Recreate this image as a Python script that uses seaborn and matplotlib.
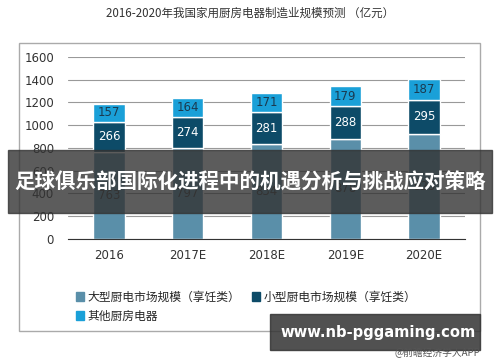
import matplotlib
matplotlib.use("Agg")
import matplotlib.pyplot as plt
import matplotlib.patches as mpatches
import seaborn as sns
import pandas as pd
import numpy as np

categories = ["2016", "2017E", "2018E", "2019E", "2020E"]
large = [763, 797, 834, 878, 925]
small = [266, 274, 281, 288, 295]
other = [157, 164, 171, 179, 187]
series_names = ["大型厨电市场规模（享饪类）", "小型厨电市场规模（享饪类）", "其他厨房电器"]
colors = ["#5a8fa9", "#0d4b68", "#1aa0d8"]
yticks = [0, 200, 400, 600, 800, 1000, 1200, 1400, 1600]
title = "2016-2020年我国家用厨房电器制造业规模预测 （亿元）"
banner = "足球俱乐部国际化进程中的机遇分析与挑战应对策略"
site = "www.nb-pggaming.com"
source = "@前瞻经济学人APP"

sns.set_style("white")
plt.rcParams['font.family'] = ['Noto Sans CJK SC', 'DejaVu Sans']

fig = plt.figure(figsize=(5.0, 3.62), dpi=100)
ax = fig.add_axes([0.136, 0.34, 0.794, 0.503])

df = pd.DataFrame({"cat": categories, "large": large, "small": small, "other": other})
b1 = np.array(large)
b2 = b1 + np.array(small)
sns.barplot(data=df, x="cat", y="large", color=colors[0], width=0.4, ax=ax, saturation=1)
sns.barplot(data=df, x="cat", y="small", bottom=b1, color=colors[1], width=0.4, ax=ax, saturation=1)
sns.barplot(data=df, x="cat", y="other", bottom=b2, color=colors[2], width=0.4, ax=ax, saturation=1)

for i in range(len(categories)):
    ax.text(i, large[i] / 2, str(large[i]), ha="center", va="center", fontsize=8.5, color="#333333", family="DejaVu Sans")
    ax.text(i, b1[i] + small[i] / 2, str(small[i]), ha="center", va="center", fontsize=8.5, color="white", family="DejaVu Sans")
    ax.text(i, b2[i] + other[i] / 2, str(other[i]), ha="center", va="center", fontsize=8.5, color="#1a3a50", family="DejaVu Sans")

ax.set_ylim(0, 1600)
ax.set_xlim(-0.52, 4.52)
ax.set_yticks(yticks)
ax.set_yticklabels([str(v) for v in yticks], fontsize=8.5, color="#333333", family="DejaVu Sans")
ax.set_xticklabels(categories, fontsize=8.5, color="#333333", family="DejaVu Sans")
ax.set_xlabel("")
ax.set_ylabel("")
ax.yaxis.grid(True, color="#999999", linewidth=0.8)
ax.set_axisbelow(True)
for s in ["top", "right", "left"]:
    ax.spines[s].set_visible(False)
ax.spines["bottom"].set_color("#333333")
ax.tick_params(axis="y", length=0, pad=10)
ax.tick_params(axis="x", length=0, pad=7)

# frame
fig.patches.append(mpatches.Rectangle((19 / 500, 1 - 331 / 362), 461 / 500, 288 / 362,
                                      transform=fig.transFigure, fill=False, edgecolor="#aaaaaa", linewidth=1.0))

fig.text(0.5, 1 - 13 / 362, title, ha="center", va="center", fontsize=8.3, color="#333333")

# legend
handles = [mpatches.Patch(color=c) for c in colors]
fig.legend(handles[:2], series_names[:2], loc="center left", bbox_to_anchor=(0.13, 1 - 297 / 362), ncol=2,
           frameon=False, fontsize=8.5, handlelength=0.7, handleheight=0.7, handletextpad=0.3, columnspacing=1.0)
fig.legend(handles[2:], series_names[2:], loc="center left", bbox_to_anchor=(0.13, 1 - 316 / 362), ncol=1,
           frameon=False, fontsize=8.5, handlelength=0.7, handleheight=0.7, handletextpad=0.3)

# banner overlay
fig.patches.append(mpatches.Rectangle((8 / 500, 1 - 213 / 362), 484 / 500, 63 / 362,
                                      transform=fig.transFigure, color="#333333", alpha=0.8, zorder=10))
fig.text(0.5, 1 - 182 / 362, banner, ha="center", va="center", fontsize=14.8, fontweight="bold",
         color="white", zorder=11)

fig.patches.append(mpatches.Rectangle((270 / 500, 1 - 350 / 362), 210 / 500, 36 / 362,
                                      transform=fig.transFigure, color="#333333", alpha=0.85, zorder=10))
fig.text(378 / 500, 1 - 332 / 362, site, ha="center", va="center", fontsize=10.6, fontweight="bold",
         color="white", zorder=11, family="DejaVu Sans")
fig.text(480 / 500, 1 - 353 / 362, source, ha="right", va="center", fontsize=7, color="#555555", zorder=12)

fig.savefig("out.png", dpi=100)
